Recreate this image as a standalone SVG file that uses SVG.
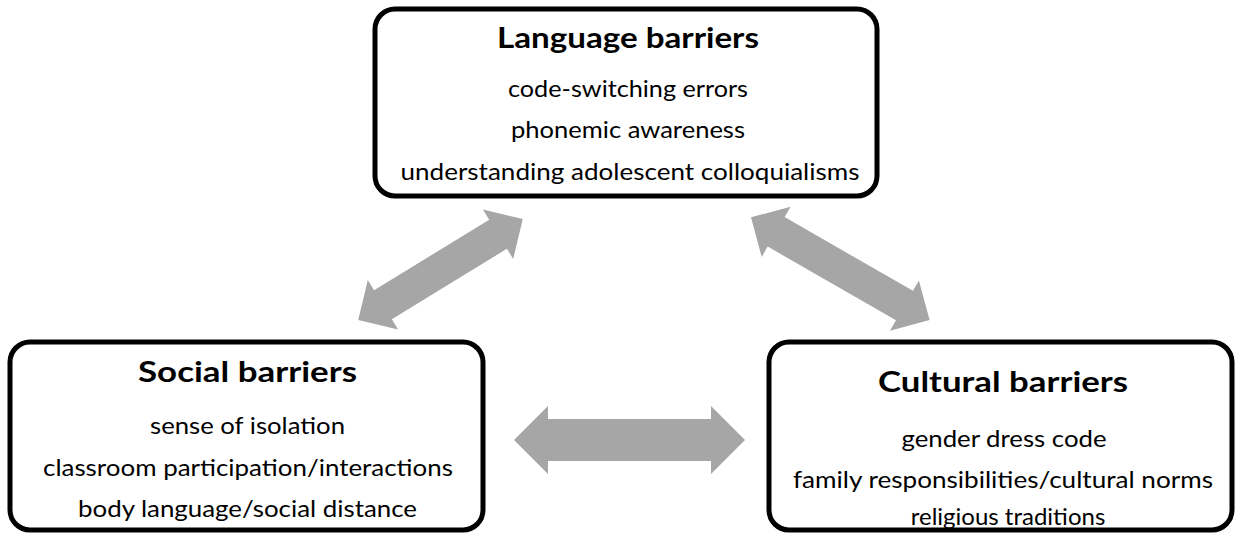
<svg xmlns="http://www.w3.org/2000/svg" width="1239" height="538" viewBox="0 0 1239 538">
<style>
.box{fill:#ffffff;stroke:#000000;stroke-width:5}
.title{font-family:Lato,"Open Sans","Liberation Sans",sans-serif;font-size:28px;font-weight:bold;fill:#000;text-anchor:middle}
.item{font-family:Lato,"Open Sans","Liberation Sans",sans-serif;font-size:24px;fill:#000;text-anchor:middle}
.arrow{fill:#a6a6a6;stroke:none}
</style>
<rect width="1239" height="538" fill="#ffffff"/>
<g id="connectors">
<path class="arrow" transform="translate(440.5,269.5) rotate(-31.5)" d="M-96.5,0 L-67.5,-29 L-67.5,-17 L67.5,-17 L67.5,-29 L96.5,0 L67.5,29 L67.5,17 L-67.5,17 L-67.5,29 Z"/>
<path class="arrow" transform="translate(840.3,268.7) rotate(29.9)" d="M-103,0 L-74,-29 L-74,-17 L74,-17 L74,-29 L103,0 L74,29 L74,17 L-74,17 L-74,29 Z"/>
<path class="arrow" transform="translate(629.5,440)" d="M-115.5,0 L-81.5,-34 L-81.5,-21 L81.5,-21 L81.5,-34 L115.5,0 L81.5,34 L81.5,21 L-81.5,21 L-81.5,34 Z"/>
</g>
<g id="language">
<rect class="box" x="375" y="9" width="502" height="187" rx="20"/>
<text class="title" x="628" y="48" textLength="262" lengthAdjust="spacingAndGlyphs">Language barriers</text>
<text class="item" x="628" y="97" textLength="240" lengthAdjust="spacingAndGlyphs">code-switching errors</text>
<text class="item" x="628" y="138" textLength="234" lengthAdjust="spacingAndGlyphs">phonemic awareness</text>
<text class="item" x="630" y="180" textLength="459" lengthAdjust="spacingAndGlyphs">understanding adolescent colloquialisms</text>
</g>
<g id="social">
<rect class="box" x="10" y="342" width="473" height="188" rx="20"/>
<text class="title" x="247.5" y="382" textLength="219" lengthAdjust="spacingAndGlyphs">Social barriers</text>
<text class="item" x="247.5" y="434" textLength="195" lengthAdjust="spacingAndGlyphs">sense of isolation</text>
<text class="item" x="248" y="475.5" textLength="410" lengthAdjust="spacingAndGlyphs">classroom participation/interactions</text>
<text class="item" x="247.5" y="517" textLength="339" lengthAdjust="spacingAndGlyphs">body language/social distance</text>
</g>
<g id="cultural">
<rect class="box" x="769" y="342" width="463" height="188" rx="20"/>
<text class="title" x="1003" y="392" textLength="250" lengthAdjust="spacingAndGlyphs">Cultural barriers</text>
<text class="item" x="1004" y="447" textLength="205" lengthAdjust="spacingAndGlyphs">gender dress code</text>
<text class="item" x="1003" y="488" textLength="420" lengthAdjust="spacingAndGlyphs">family responsibilities/cultural norms</text>
<text class="item" x="1008" y="525">religious traditions</text>
</g>
</svg>
